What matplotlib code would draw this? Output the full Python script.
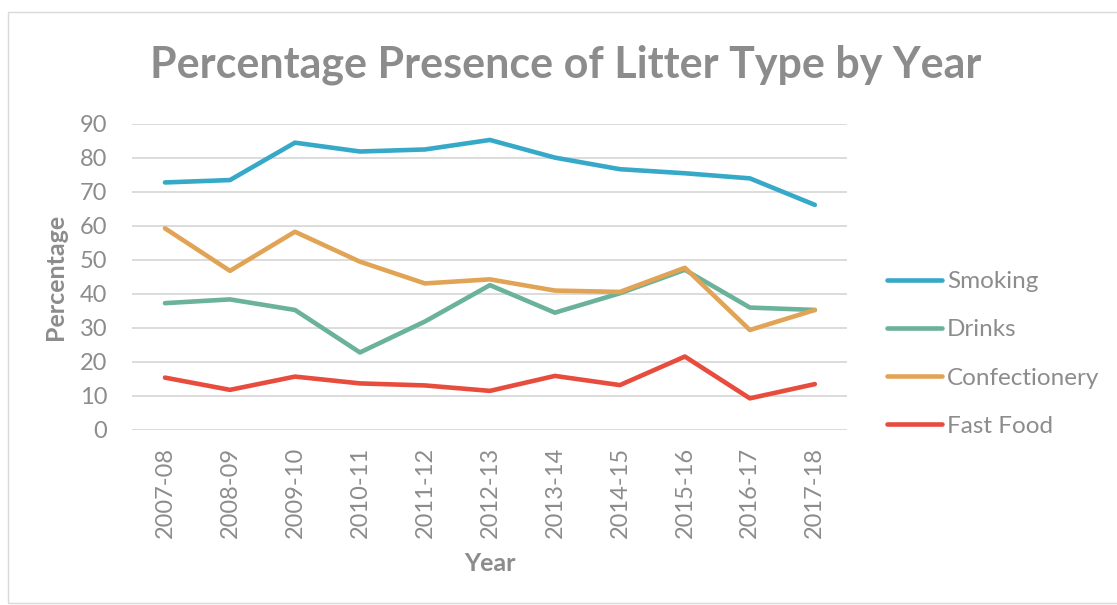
import matplotlib
matplotlib.use("Agg")
import matplotlib.pyplot as plt
from matplotlib.patches import Rectangle

plt.rcParams['font.family'] = ['Lato', 'DejaVu Sans']

years = ['2007-08', '2008-09', '2009-10', '2010-11', '2011-12', '2012-13',
         '2013-14', '2014-15', '2015-16', '2016-17', '2017-18']
smoking = [72.8, 73.5, 84.5, 81.9, 82.5, 85.3, 80.1, 76.7, 75.5, 74.0, 66.2]
drinks = [37.3, 38.4, 35.3, 22.8, 31.9, 42.6, 34.5, 40.2, 47.1, 36.0, 35.3]
confectionery = [59.3, 46.8, 58.3, 49.5, 43.1, 44.3, 41.0, 40.6, 47.7, 29.4, 35.3]
fast_food = [15.4, 11.8, 15.7, 13.7, 13.1, 11.5, 15.9, 13.2, 21.6, 9.3, 13.5]

series = [('Smoking', smoking, '#37a9c8'),
          ('Drinks', drinks, '#6ab299'),
          ('Confectionery', confectionery, '#e1a456'),
          ('Fast Food', fast_food, '#e84c3d')]

grey = '#8c8c8c'

fig = plt.figure(figsize=(11.17, 6.05), dpi=100)
# chart border
fig.patches.append(Rectangle((8 / 1117, 0.003), 1.2, 1 - 12 / 605 - 0.003,
                             transform=fig.transFigure, fill=False,
                             edgecolor='#d9d9d9', lw=1))

ax = fig.add_axes([0.1186, 0.2893, 0.640, 0.5058])
x = list(range(len(years)))
for name, vals, col in series:
    ax.plot(x, vals, color=col, lw=3.3, label=name, solid_capstyle='round')

ax.set_xlim(-0.5, len(years) - 0.5)
ax.set_ylim(0, 90)
ax.set_yticks(range(0, 91, 10))
ax.set_xticks(x)
ax.set_xticklabels(years, rotation=90)
ax.grid(axis='y', color='#d9d9d9', lw=1.3)
ax.set_axisbelow(True)
for s in ax.spines.values():
    s.set_visible(False)
ax.tick_params(length=0, colors=grey, labelsize=17)
ax.tick_params(axis='y', pad=18)
ax.tick_params(axis='x', pad=12)

ax.set_ylabel('Percentage', color=grey, fontsize=18, fontweight='bold', labelpad=9)
ax.set_xlabel('Year', color=grey, fontsize=18, fontweight='bold', labelpad=10)

fig.text(0.506, 0.893, 'Percentage Presence of Litter Type by Year', ha='center',
         va='center', fontsize=31, fontweight='bold', color=grey)

leg = ax.legend(loc='center left', bbox_to_anchor=(887 / 1117, 0.415),
                bbox_transform=fig.transFigure, frameon=False, borderpad=0,
                borderaxespad=0, fontsize=17.5, labelcolor=grey,
                handlelength=2.26, handletextpad=0.2, labelspacing=1.12)

fig.savefig('out.png', dpi=100)
